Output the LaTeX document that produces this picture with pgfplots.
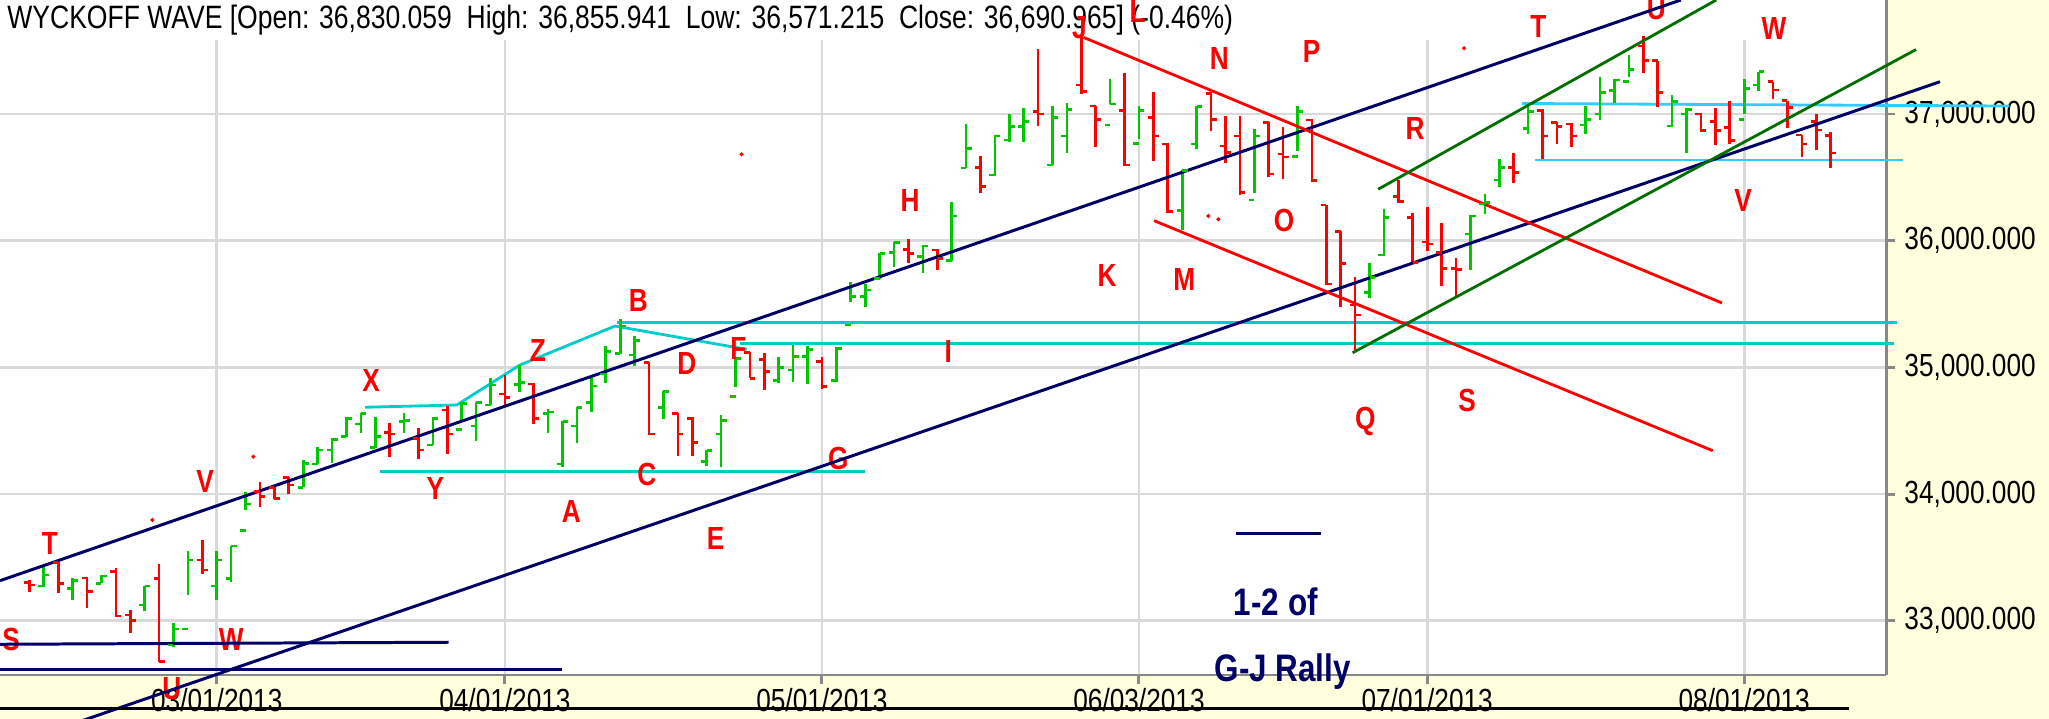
\documentclass[border=0pt]{standalone}
\usepackage{fontspec}
\setmainfont{Liberation Sans}[FakeStretch=0.82]
\usepackage{pgfplots}
\usepackage{pgfplotstable}
\pgfplotsset{compat=1.18}
\definecolor{barred}{RGB}{255,0,0}
\definecolor{bargreen}{RGB}{0,200,0}
\definecolor{navyc}{RGB}{0,0,102}
\definecolor{dgreen}{RGB}{0,110,0}
\definecolor{cyanl}{RGB}{0,204,204}
\definecolor{skyl}{RGB}{51,204,255}
\definecolor{gridc}{RGB}{217,217,217}
\definecolor{axc}{RGB}{136,136,136}
\definecolor{paperc}{RGB}{255,255,221}
\tikzset{lbl/.style={text=barred, font=\bfseries\fontsize{9.1}{10}\selectfont, inner sep=0pt}}
\begin{document}
\pgfdeclareplotmark{otick}{\pgfpathmoveto{\pgfpoint{-0.055cm}{0pt}}\pgfpathlineto{\pgfpoint{0pt}{0pt}}\pgfusepathqstroke}%
\pgfdeclareplotmark{ctick}{\pgfpathmoveto{\pgfpoint{0pt}{0pt}}\pgfpathlineto{\pgfpoint{0.055cm}{0pt}}\pgfusepathqstroke}%
\pgfplotstableread{
i O H L C
-13 33303 33321 33229 33282
-11 33458 33466 33221 33295
-9 33337 33343 33098 33229
-7 33387 33418 33032 33037
-6 33045 33085 32905 33000
-4 33335 33448 32677 32677
-1 33479 33637 33369 33400
3 34018 34097 33900 33979
4 34053 34071 33958 33966
5 34132 34137 34000 34071
12 34484 34563 34295 34474
14 34440 34519 34274 34348
16 34663 34695 34316 34474
20 34790 34940 34695 34764
22 34869 34874 34553 34598
30 35037 35045 34466 34474
32 34637 34642 34300 34474
33 34598 34606 34300 34405
37 35116 35124 34914 34914
38 35064 35111 34821 34966
42 35045 35079 34827 34847
48 35932 36011 35821 35900
50 35926 35932 35768 35861
53 36579 36668 36379 36426
57 37018 37511 36905 37000
60 37229 37610 37158 37176
61 37063 37063 36737 36958
63 37026 37321 36590 36597
65 36974 37176 36631 36826
66 36763 36769 36221 36229
69 37163 37176 36868 36958
70 36747 36984 36616 36694
71 36826 36984 36361 36379
73 36931 36939 36505 36526
74 36684 36900 36484 36661
76 36953 36958 36466 36473
77 36282 36282 35650 35658
78 36071 36079 35479 35821
79 35492 35716 35137 35413
82 36347 36479 36300 36308
83 36185 36221 35821 35826
84 35990 36268 35921 35974
85 35905 36137 35642 35782
86 35782 35861 35558 35774
90 36579 36690 36458 36537
92 37026 37037 36642 36826
93 36931 36939 36763 36900
94 36921 36927 36737 36826
99 37537 37616 37326 37421
100 37421 37421 37053 37168
103 37000 37005 36860 36868
104 36939 37045 36755 36868
105 36895 37105 36763 36789
108 37255 37255 37116 37189
109 37105 37105 36887 37053
110 36834 36834 36658 36763
111 36939 37000 36716 36874
112 36830.059 36855.941 36571.215 36690.965
}\redtab%
\pgfplotstableread{
i O H L C
-12 33274 33426 33268 33361
-10 33256 33335 33163 33316
-8 33295 33361 33295 33353
-5 33124 33274 33079 33274
-3 32808 32980 32790 32935
-2 32935 33550 33203 33479
0 33274 33550 33163 33479
1 33335 33592 33308 33590
2 33711 34014 33874 33921
6 34053 34269 34053 34243
7 34237 34369 34237 34348
8 34348 34440 34247 34432
9 34453 34606 34453 34598
10 34553 34642 34484 34637
11 34369 34606 34361 34453
13 34571 34642 34484 34579
15 34387 34606 34387 34598
17 34511 34729 34584 34716
18 34537 34729 34421 34721
19 34703 34914 34703 34861
21 34866 35019 34808 34879
23 34637 34669 34484 34648
24 34237 34579 34216 34571
25 34537 34689 34400 34685
26 34721 34932 34650 34853
27 34948 35169 34874 35124
28 35111 35379 35105 35326
29 35098 35247 35011 35210
31 34685 34816 34590 34808
34 34255 34348 34221 34342
35 34474 34624 34211 34579
36 34768 35084 34847 35071
39 34895 35079 34879 35000
40 34979 35176 34887 35084
41 35084 35169 34869 35142
43 34895 35158 34887 35150
44 35334 35676 35518 35558
45 35558 35658 35479 35611
46 35703 35905 35695 35900
47 35905 35992 35790 35984
49 35873 35966 35747 35958
51 35842 36308 35842 36195
52 36574 36921 36571 36729
54 36518 36834 36511 36826
55 36795 37000 36781 36900
56 36900 37045 36781 36939
58 36597 37063 36597 36974
59 36826 37084 36694 37037
62 36913 37274 37079 37079
64 36769 37063 36800 37026
67 36237 36558 36084 36552
68 36763 37063 36721 37058
72 36321 36879 36374 36826
75 36663 37063 36710 37018
80 35589 35826 35545 35711
81 35887 36248 35879 36185
87 36053 36203 35768 36195
88 36290 36368 36211 36300
89 36479 36642 36421 36579
91 36887 37071 36842 37018
95 36913 37063 36842 36958
96 37000 37294 36953 37168
97 37184 37274 37089 37268
98 37255 37466 37290 37353
101 36905 37150 36895 37097
102 37000 37045 36694 37037
106 36958 37274 37000 37203
107 37229 37334 37184 37334
}\greentab%
\begin{tikzpicture}[x=1cm,y=1cm]
\useasboundingbox (0,0) rectangle (20.49,7.19);
\clip (0,0) rectangle (20.49,7.19);
\fill[paperc] (0,0) rectangle (20.49,7.19);
\fill[white] (0,0.44) rectangle (18.86,7.19);
\draw[axc, line width=0.85pt] (18.86,6.70) -- (18.86,7.25);
\node[anchor=base west, inner sep=0pt, font=\fontsize{9.2}{10}\selectfont] at (0.067,6.907) {WYCKOFF WAVE [Open: 36,830.059\ \ High: 36,855.941\ \ Low: 36,571.215\ \ Close: 36,690.965] (-0.46\%)};
\begin{axis}[
  at={(0cm,0.44cm)}, anchor=south west,
  scale only axis, width=18.86cm, height=6.35cm,
  xmin=-15.04, xmax=115.84, ymin=32571.5, ymax=37584.2,
  clip=false, scaled y ticks=false, scaled x ticks=false,
  axis x line*=bottom, axis y line*=right,
  axis line style={axc, line width=0.85pt},
  tick align=outside, major tick length=0.09cm,
  every tick/.append style={axc, line width=0.85pt},
  grid=major, major grid style={gridc, line width=0.8pt},
  xtick={0,20,42,64,84,106},
  xticklabels={03/01/2013,04/01/2013,05/01/2013,06/03/2013,07/01/2013,08/01/2013},
  ytick={33000,34000,35000,36000,37000},
  yticklabels={{33,000.000},{34,000.000},{35,000.000},{36,000.000},{37,000.000}},
  ticklabel style={font=\fontsize{9.1}{10}\selectfont, text=black},
  xticklabel style={anchor=base, yshift=-0.28cm},
  yticklabel style={anchor=west, xshift=-0.03cm},
]
\addplot[cyanl, line width=0.8pt] coordinates {(10.3,34685) (16.66,34703) (21.05,35019) (27.64,35326) (36.78,35142)};
\addplot[cyanl, line width=0.8pt] coordinates {(27.76,35354) (116.6,35354)};
\addplot[cyanl, line width=0.8pt] coordinates {(36.3,35190) (116.4,35190)};
\addplot[cyanl, line width=0.8pt] coordinates {(11.33,34176) (44.99,34176)};
\addplot[skyl, line width=0.8pt] coordinates {(90.58,37083) (124.4,37063)};
\addplot[skyl, line width=0.8pt] coordinates {(91.49,36637) (117.0,36637)};

\addplot[draw=none, mark=none, error bars/.cd, y dir=plus, y explicit, error mark=none, error bar style={draw=barred, line width=0.75pt}] table[x=i, y=L, y error expr=\thisrow{H}-\thisrow{L}] {\redtab};
\addplot[only marks, mark=otick, mark options={draw=barred, line width=0.75pt}] table[x=i, y=O] {\redtab};
\addplot[only marks, mark=ctick, mark options={draw=barred, line width=0.75pt}] table[x=i, y=C] {\redtab};
\addplot[draw=none, mark=none, error bars/.cd, y dir=plus, y explicit, error mark=none, error bar style={draw=bargreen, line width=0.75pt}] table[x=i, y=L, y error expr=\thisrow{H}-\thisrow{L}] {\greentab};
\addplot[only marks, mark=otick, mark options={draw=bargreen, line width=0.75pt}] table[x=i, y=O] {\greentab};
\addplot[only marks, mark=ctick, mark options={draw=bargreen, line width=0.75pt}] table[x=i, y=C] {\greentab};
\addplot[only marks, mark=*, mark size=0.35pt, barred] coordinates {(-4.47,33795) (2.54,34295) (36.42,36682) (68.81,36195) (69.51,36169) (86.56,37519)};

\node[lbl] at (axis cs:-14.26,32853) {S};
\node[lbl] at (axis cs:-11.57,33611) {T};
\node[lbl] at (axis cs:-3.11,32466) {U};
\node[lbl] at (axis cs:-0.81,34097) {V};
\node[lbl] at (axis cs:1.01,32848) {W};
\node[lbl] at (axis cs:10.71,34900) {X};
\node[lbl] at (axis cs:15.17,34045) {Y};
\node[lbl] at (axis cs:22.28,35131) {Z};
\node[lbl] at (axis cs:24.61,33861) {A};
\node[lbl] at (axis cs:29.26,35526) {B};
\node[lbl] at (axis cs:29.84,34157) {C};
\node[lbl] at (axis cs:32.62,35032) {D};
\node[lbl] at (axis cs:34.62,33651) {E};
\node[lbl] at (axis cs:36.2,35150) {F};
\node[lbl] at (axis cs:43.14,34282) {G};
\node[lbl] at (axis cs:48.11,36321) {H};
\node[lbl] at (axis cs:50.77,35124) {I};
\node[lbl] at (axis cs:59.87,37679) {J};
\node[lbl] at (axis cs:61.78,35729) {K};
\node[lbl] at (axis cs:63.9,37808) {L};
\node[lbl] at (axis cs:67.15,35690) {M};
\node[lbl] at (axis cs:69.58,37440) {N};
\node[lbl] at (axis cs:74.06,36163) {O};
\node[lbl] at (axis cs:75.98,37492) {P};
\node[lbl] at (axis cs:79.7,34571) {Q};
\node[lbl] at (axis cs:83.16,36887) {R};
\node[lbl] at (axis cs:86.77,34742) {S};
\node[lbl] at (axis cs:91.72,37689) {T};
\node[lbl] at (axis cs:99.9,37834) {U};
\node[lbl] at (axis cs:108.07,37676) {W};
\node[lbl] at (axis cs:105.92,36321) {V};

\addplot[navyc, line width=0.85pt] coordinates {(-15.04,33316) (101.6,37900)};
\addplot[navyc, line width=0.85pt] coordinates {(-10.87,32151) (119.59,37255)};
\addplot[navyc, line width=0.85pt] coordinates {(-15.04,32814) (16.1,32830)};
\addplot[navyc, line width=0.85pt] coordinates {(-15.04,32616) (23.93,32616)};
\addplot[navyc, line width=0.85pt] coordinates {(70.71,33690) (76.66,33690)};
\addplot[black, line width=0.85pt] coordinates {(-15.04,32307) (113.27,32307)};
\addplot[barred, line width=0.8pt] coordinates {(60.14,37605.5) (104.46,35508)};
\addplot[barred, line width=0.8pt] coordinates {(65.05,36158) (103.82,34342)};
\addplot[dgreen, line width=0.8pt] coordinates {(78.82,35115) (117.93,37509)};
\addplot[dgreen, line width=0.8pt] coordinates {(80.6,36406) (104.06,37900)};

\node[text=navyc, font=\bfseries\fontsize{10.9}{12}\selectfont, inner sep=0pt] at (axis cs:73.5,33150) {1-2 of};
\node[text=navyc, font=\bfseries\fontsize{10.9}{12}\selectfont, inner sep=0pt] at (axis cs:73.97,32597) {G-J Rally};
\end{axis}
\end{tikzpicture}
\end{document}
